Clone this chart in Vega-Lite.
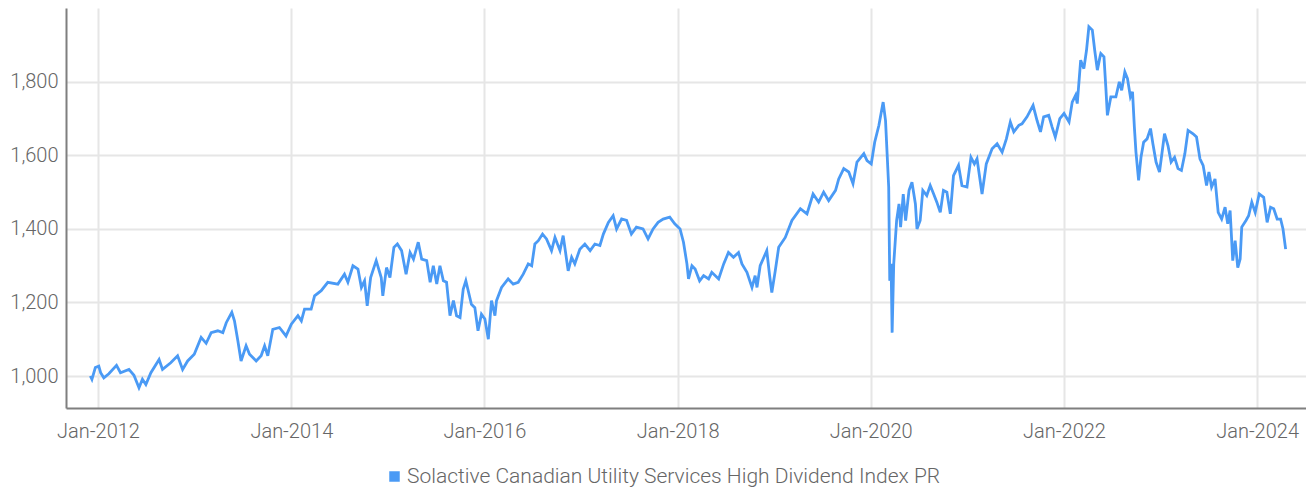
{
  "$schema": "https://vega.github.io/schema/vega-lite/v6.json",
  "width": 1240,
  "height": 400,
  "autosize": {"type": "none"},
  "padding": {"left": 66, "top": 8, "right": 0, "bottom": 85},
  "background": "white",
  "config": {
    "view": {"stroke": null},
    "font": "Roboto",
    "axis": {"gridColor": "#e6e6e6", "gridWidth": 2, "domainColor": "#7f7f7f", "domainWidth": 2, "ticks": false, "labelFont": "Roboto", "labelFontSize": 20, "labelFontWeight": 300, "labelColor": "#666666", "title": null}
  },
  "data": {"values": [
    {"d":"2011-12-03","v":1000},{"d":"2011-12-09","v":991},{"d":"2011-12-22","v":1023},{"d":"2012-01-04","v":1027},{"d":"2012-01-11","v":1009},{"d":"2012-01-23","v":995},{"d":"2012-02-11","v":1006},{"d":"2012-03-11","v":1029},{"d":"2012-03-26","v":1009},{"d":"2012-04-27","v":1018},{"d":"2012-05-16","v":1002},{"d":"2012-06-04","v":968},{"d":"2012-06-17","v":991},{"d":"2012-06-30","v":977},{"d":"2012-07-19","v":1009},{"d":"2012-08-19","v":1045},{"d":"2012-09-01","v":1018},{"d":"2012-10-02","v":1036},{"d":"2012-10-28","v":1055},{"d":"2012-11-16","v":1018},{"d":"2012-12-05","v":1041},{"d":"2012-12-30","v":1059},
    {"d":"2013-01-25","v":1105},{"d":"2013-02-13","v":1089},{"d":"2013-03-04","v":1118},{"d":"2013-03-29","v":1123},{"d":"2013-04-17","v":1118},{"d":"2013-04-30","v":1145},{"d":"2013-05-21","v":1173},{"d":"2013-05-31","v":1150},{"d":"2013-06-13","v":1095},{"d":"2013-06-25","v":1041},{"d":"2013-07-14","v":1082},{"d":"2013-07-27","v":1059},{"d":"2013-08-21","v":1041},{"d":"2013-09-09","v":1055},{"d":"2013-09-22","v":1082},{"d":"2013-10-04","v":1055},{"d":"2013-10-23","v":1127},{"d":"2013-11-17","v":1132},{"d":"2013-12-12","v":1109},
    {"d":"2014-01-01","v":1141},{"d":"2014-01-26","v":1164},{"d":"2014-02-08","v":1150},{"d":"2014-02-20","v":1182},{"d":"2014-03-17","v":1182},{"d":"2014-03-30","v":1218},{"d":"2014-04-24","v":1232},{"d":"2014-05-19","v":1255},{"d":"2014-06-26","v":1250},{"d":"2014-07-21","v":1277},{"d":"2014-08-03","v":1255},{"d":"2014-08-22","v":1300},{"d":"2014-09-10","v":1291},{"d":"2014-09-23","v":1241},{"d":"2014-10-05","v":1259},{"d":"2014-10-15","v":1191},{"d":"2014-10-28","v":1268},{"d":"2014-11-18","v":1314},{"d":"2014-12-07","v":1268},{"d":"2014-12-13","v":1218},{"d":"2014-12-27","v":1295},
    {"d":"2015-01-09","v":1268},{"d":"2015-01-24","v":1350},{"d":"2015-02-06","v":1359},{"d":"2015-02-22","v":1341},{"d":"2015-03-11","v":1277},{"d":"2015-03-26","v":1336},{"d":"2015-04-08","v":1318},{"d":"2015-04-26","v":1364},{"d":"2015-05-09","v":1318},{"d":"2015-05-28","v":1314},{"d":"2015-06-10","v":1255},{"d":"2015-06-22","v":1300},{"d":"2015-07-05","v":1250},{"d":"2015-07-17","v":1300},{"d":"2015-07-30","v":1259},{"d":"2015-08-11","v":1255},{"d":"2015-08-24","v":1164},{"d":"2015-09-06","v":1205},{"d":"2015-09-18","v":1164},{"d":"2015-10-01","v":1159},{"d":"2015-10-13","v":1236},{"d":"2015-10-23","v":1259},{"d":"2015-11-01","v":1232},{"d":"2015-11-13","v":1195},{"d":"2015-11-26","v":1186},{"d":"2015-12-08","v":1123},{"d":"2015-12-21","v":1168},
    {"d":"2016-01-03","v":1155},{"d":"2016-01-16","v":1100},{"d":"2016-01-28","v":1205},{"d":"2016-02-10","v":1164},{"d":"2016-02-16","v":1205},{"d":"2016-03-06","v":1241},{"d":"2016-03-31","v":1264},{"d":"2016-04-19","v":1250},{"d":"2016-05-08","v":1255},{"d":"2016-05-27","v":1277},{"d":"2016-06-15","v":1305},{"d":"2016-06-28","v":1300},{"d":"2016-07-10","v":1359},{"d":"2016-07-23","v":1368},{"d":"2016-08-08","v":1386},{"d":"2016-08-23","v":1373},{"d":"2016-09-11","v":1341},{"d":"2016-09-24","v":1377},{"d":"2016-10-13","v":1341},{"d":"2016-10-25","v":1382},{"d":"2016-11-13","v":1286},{"d":"2016-11-26","v":1323},{"d":"2016-12-08","v":1305},{"d":"2016-12-27","v":1345},
    {"d":"2017-01-15","v":1359},{"d":"2017-02-04","v":1341},{"d":"2017-02-22","v":1359},{"d":"2017-03-13","v":1355},{"d":"2017-03-26","v":1386},{"d":"2017-04-14","v":1418},{"d":"2017-05-02","v":1436},{"d":"2017-05-15","v":1400},{"d":"2017-06-03","v":1427},{"d":"2017-06-22","v":1423},{"d":"2017-07-10","v":1386},{"d":"2017-07-29","v":1405},{"d":"2017-08-23","v":1400},{"d":"2017-09-11","v":1373},{"d":"2017-09-30","v":1400},{"d":"2017-10-19","v":1418},{"d":"2017-11-07","v":1427},{"d":"2017-12-02","v":1432},{"d":"2017-12-21","v":1414},
    {"d":"2018-01-10","v":1400},{"d":"2018-01-23","v":1364},{"d":"2018-02-05","v":1305},{"d":"2018-02-11","v":1264},{"d":"2018-02-24","v":1300},{"d":"2018-03-08","v":1291},{"d":"2018-03-25","v":1259},{"d":"2018-04-09","v":1273},{"d":"2018-04-28","v":1264},{"d":"2018-05-10","v":1282},{"d":"2018-06-05","v":1264},{"d":"2018-06-24","v":1305},{"d":"2018-07-12","v":1336},{"d":"2018-07-31","v":1323},{"d":"2018-08-19","v":1336},{"d":"2018-09-01","v":1305},{"d":"2018-09-20","v":1282},{"d":"2018-10-09","v":1241},{"d":"2018-10-21","v":1273},{"d":"2018-10-28","v":1241},{"d":"2018-11-09","v":1300},{"d":"2018-12-04","v":1341},{"d":"2018-12-14","v":1277},{"d":"2018-12-23","v":1227},
    {"d":"2019-01-05","v":1286},{"d":"2019-01-18","v":1350},{"d":"2019-02-12","v":1377},{"d":"2019-03-09","v":1423},{"d":"2019-04-10","v":1455},{"d":"2019-05-05","v":1441},{"d":"2019-05-28","v":1495},{"d":"2019-06-18","v":1473},{"d":"2019-07-07","v":1500},{"d":"2019-07-26","v":1477},{"d":"2019-08-21","v":1505},{"d":"2019-09-02","v":1536},{"d":"2019-09-21","v":1564},{"d":"2019-10-10","v":1555},{"d":"2019-10-26","v":1523},{"d":"2019-11-10","v":1582},{"d":"2019-12-06","v":1605},{"d":"2019-12-18","v":1586},
    {"d":"2020-01-03","v":1577},{"d":"2020-01-16","v":1636},{"d":"2020-02-01","v":1682},{"d":"2020-02-17","v":1745},{"d":"2020-02-26","v":1695},{"d":"2020-03-03","v":1605},{"d":"2020-03-09","v":1514},{"d":"2020-03-13","v":1259},{"d":"2020-03-18","v":1305},{"d":"2020-03-22","v":1118},{"d":"2020-03-28","v":1305},{"d":"2020-04-08","v":1423},{"d":"2020-04-17","v":1468},{"d":"2020-04-23","v":1405},{"d":"2020-05-03","v":1495},{"d":"2020-05-12","v":1423},{"d":"2020-05-25","v":1505},{"d":"2020-06-05","v":1527},{"d":"2020-06-18","v":1468},{"d":"2020-06-24","v":1400},{"d":"2020-07-06","v":1423},{"d":"2020-07-16","v":1505},{"d":"2020-07-31","v":1491},{"d":"2020-08-13","v":1518},{"d":"2020-08-26","v":1495},{"d":"2020-09-07","v":1473},{"d":"2020-09-20","v":1445},{"d":"2020-10-02","v":1505},{"d":"2020-10-15","v":1500},{"d":"2020-10-28","v":1441},{"d":"2020-11-09","v":1545},{"d":"2020-11-28","v":1573},{"d":"2020-12-11","v":1518},{"d":"2020-12-30","v":1514},
    {"d":"2021-01-14","v":1595},{"d":"2021-01-27","v":1577},{"d":"2021-02-06","v":1591},{"d":"2021-02-25","v":1495},{"d":"2021-03-13","v":1577},{"d":"2021-04-04","v":1618},{"d":"2021-04-23","v":1632},{"d":"2021-05-12","v":1609},{"d":"2021-05-28","v":1645},{"d":"2021-06-12","v":1691},{"d":"2021-06-25","v":1664},{"d":"2021-07-14","v":1682},{"d":"2021-07-26","v":1686},{"d":"2021-08-14","v":1705},{"d":"2021-09-06","v":1736},{"d":"2021-09-21","v":1695},{"d":"2021-10-04","v":1664},{"d":"2021-10-16","v":1705},{"d":"2021-11-04","v":1709},{"d":"2021-11-17","v":1677},{"d":"2021-11-29","v":1650},{"d":"2021-12-16","v":1700},
    {"d":"2022-01-01","v":1714},{"d":"2022-01-20","v":1691},{"d":"2022-02-01","v":1745},{"d":"2022-02-14","v":1764},{"d":"2022-02-20","v":1741},{"d":"2022-03-05","v":1859},{"d":"2022-03-17","v":1836},{"d":"2022-03-27","v":1886},{"d":"2022-04-05","v":1950},{"d":"2022-04-18","v":1941},{"d":"2022-04-27","v":1886},{"d":"2022-05-07","v":1832},{"d":"2022-05-17","v":1868},{"d":"2022-05-20","v":1877},{"d":"2022-06-01","v":1868},{"d":"2022-06-08","v":1786},{"d":"2022-06-14","v":1709},{"d":"2022-06-27","v":1759},{"d":"2022-07-16","v":1759},{"d":"2022-07-29","v":1800},{"d":"2022-08-07","v":1777},{"d":"2022-08-19","v":1827},{"d":"2022-08-29","v":1809},{"d":"2022-09-09","v":1759},{"d":"2022-09-17","v":1773},{"d":"2022-09-24","v":1677},{"d":"2022-09-30","v":1609},{"d":"2022-10-10","v":1532},{"d":"2022-10-19","v":1595},{"d":"2022-10-29","v":1636},{"d":"2022-11-11","v":1645},{"d":"2022-11-24","v":1673},{"d":"2022-12-03","v":1632},{"d":"2022-12-15","v":1582},{"d":"2022-12-28","v":1555},
    {"d":"2023-01-16","v":1659},{"d":"2023-01-29","v":1627},{"d":"2023-02-10","v":1582},{"d":"2023-02-23","v":1595},{"d":"2023-03-08","v":1564},{"d":"2023-03-21","v":1559},{"d":"2023-04-03","v":1605},{"d":"2023-04-15","v":1668},{"d":"2023-05-04","v":1659},{"d":"2023-05-17","v":1650},{"d":"2023-05-30","v":1591},{"d":"2023-06-11","v":1573},{"d":"2023-06-24","v":1518},{"d":"2023-07-03","v":1555},{"d":"2023-07-13","v":1514},{"d":"2023-07-26","v":1536},{"d":"2023-08-07","v":1445},{"d":"2023-08-20","v":1427},{"d":"2023-09-02","v":1459},{"d":"2023-09-12","v":1414},{"d":"2023-09-21","v":1450},{"d":"2023-10-01","v":1314},{"d":"2023-10-10","v":1368},{"d":"2023-10-20","v":1295},{"d":"2023-10-29","v":1318},{"d":"2023-11-04","v":1405},{"d":"2023-11-20","v":1423},{"d":"2023-11-30","v":1436},{"d":"2023-12-12","v":1473},{"d":"2023-12-25","v":1445},
    {"d":"2024-01-09","v":1495},{"d":"2024-01-26","v":1486},{"d":"2024-02-08","v":1418},{"d":"2024-02-21","v":1459},{"d":"2024-03-04","v":1455},{"d":"2024-03-17","v":1427},{"d":"2024-03-30","v":1427},{"d":"2024-04-08","v":1400},{"d":"2024-04-18","v":1345}
  ]},
  "transform": [{"calculate": "'Solactive Canadian Utility Services High Dividend Index PR'", "as": "series"}],
  "mark": {"type": "line", "strokeWidth": 2.8, "interpolate": "linear"},
  "encoding": {
    "x": {
      "field": "d", "type": "temporal",
      "scale": {"type": "utc", "domain": [{"year": 2011, "month": 9, "date": 2, "utc": true}, {"year": 2024, "month": 7, "date": 4, "utc": true}]},
      "axis": {
        "values": [
          {"year": 2012, "month": 1, "date": 1, "utc": true},
          {"year": 2014, "month": 1, "date": 1, "utc": true},
          {"year": 2016, "month": 1, "date": 1, "utc": true},
          {"year": 2018, "month": 1, "date": 1, "utc": true},
          {"year": 2020, "month": 1, "date": 1, "utc": true},
          {"year": 2022, "month": 1, "date": 1, "utc": true},
          {"year": 2024, "month": 1, "date": 1, "utc": true}
        ],
        "format": "%b-%Y", "labelPadding": 13, "grid": true
      }
    },
    "y": {
      "field": "v", "type": "quantitative",
      "scale": {"domain": [913, 2001], "nice": false, "zero": false},
      "axis": {"values": [1000, 1200, 1400, 1600, 1800], "format": ",d", "labelPadding": 8, "grid": true}
    },
    "color": {
      "field": "series", "type": "nominal",
      "scale": {"range": ["#4a9af5"]},
      "legend": {
        "title": null, "orient": "none", "legendX": 318, "legendY": 458,
        "symbolType": "square", "symbolSize": 110, "symbolStrokeWidth": 0, "symbolFillColor": "#4a9af5",
        "labelFont": "Roboto", "labelFontSize": 21, "labelFontWeight": 300, "labelColor": "#666666", "labelOffset": 2, "labelLimit": 800,
        "encode": {"symbols": {"update": {"fill": {"value": "#4a9af5"}, "strokeWidth": {"value": 0}}}}
      }
    }
  }
}
